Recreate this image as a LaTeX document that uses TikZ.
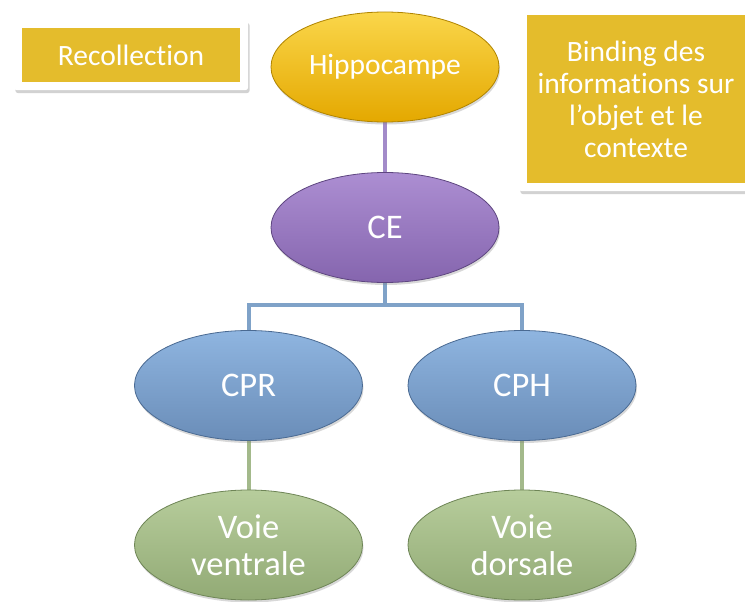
\documentclass[tikz,border=0pt]{standalone}
\usepackage{fontspec}
\setmainfont{Carlito}[Ligatures=NoCommon]
\usetikzlibrary{shapes.geometric,shadows,fit,backgrounds}
\definecolor{boxgold}{HTML}{E4BC2C}
\definecolor{linkpurple}{HTML}{A38BC9}
\definecolor{linkblue}{HTML}{7FA2C8}
\definecolor{linkgreen}{HTML}{A3B98B}
\tikzset{
  ell/.style={ellipse, minimum width=228pt, minimum height=110pt, inner sep=0pt,
    text=white, align=center, line width=0.8pt,
    font=\fontsize{34.5}{37}\selectfont,
    drop shadow={opacity=0.3, shadow xshift=1pt, shadow yshift=-2.5pt}},
  hippo/.style={ell, top color={rgb,255:red,250;green,214;blue,74},
    middle color={rgb,255:red,245;green,194;blue,17},
    bottom color={rgb,255:red,228;green,168;blue,0},
    draw={rgb,255:red,176;green,132;blue,0}, font=\fontsize{29.5}{33}\selectfont},
  purp/.style={ell, top color={rgb,255:red,172;green,142;blue,210},
    middle color={rgb,255:red,155;green,120;blue,194},
    bottom color={rgb,255:red,133;green,101;blue,174},
    draw={rgb,255:red,94;green,70;blue,128}},
  blu/.style={ell, top color={rgb,255:red,143;green,181;blue,224},
    middle color={rgb,255:red,123;green,162;blue,207},
    bottom color={rgb,255:red,106;green,141;blue,184},
    draw={rgb,255:red,74;green,106;blue,146}},
  grn/.style={ell, top color={rgb,255:red,183;green,205;blue,156},
    middle color={rgb,255:red,165;green,189;blue,136},
    bottom color={rgb,255:red,146;green,170;blue,117},
    draw={rgb,255:red,110;green,133;blue,86}},
  goldbox/.style={rectangle, fill=boxgold, inner sep=0pt, text=white, align=center,
    font=\fontsize{29.5}{32}\selectfont},
  frame/.style={rectangle, fill=white, rounded corners=3pt, inner sep=8pt,
    drop shadow={opacity=0.35, shadow xshift=1.5pt, shadow yshift=-3pt}},
  link/.style={line width=4pt}
}
\begin{document}
\begin{tikzpicture}[x=1pt,y=-1pt]
\useasboundingbox (0,0) rectangle (745,602);
\clip (0,0) rectangle (745,602);
\begin{scope}[on background layer]
  \fill[white] (0,0) rectangle (745,602);
\end{scope}

\node[goldbox, minimum width=218pt, minimum height=54pt] (rec) at (131,55) {Recollection};
\node[goldbox, minimum width=218pt, minimum height=168pt] (bind) at (636,99)
  {Binding des\\informations sur\\l’objet et le\\contexte};
\begin{scope}[on background layer]
  \node[frame, fit=(rec)] (recframe) {};
  \node[frame, fit=(bind)] (bindframe) {};
\end{scope}

\node[hippo] (hip) at (385,67) {Hippocampe};
\node[purp] (ce) at (385,227.5) {CE};
\node[blu] (cpr) at (248.5,385.5) {CPR};
\node[blu] (cph) at (522,385.5) {CPH};
\node[grn] (vv) at (248.5,545) {Voie\\ventrale};
\node[grn] (vd) at (522,545) {Voie\\dorsale};
\coordinate (split) at (385,305);

\begin{scope}[on background layer]
  \draw[link, linkpurple] (hip.south) -- (ce.north);
  \draw[link, linkblue] (ce.south) -- (split);
  \draw[link, linkblue] (split) -| (cpr.north);
  \draw[link, linkblue] (split) -| (cph.north);
  \draw[link, linkgreen] (cpr.south) -- (vv.north);
  \draw[link, linkgreen] (cph.south) -- (vd.north);
\end{scope}
\end{tikzpicture}
\end{document}
